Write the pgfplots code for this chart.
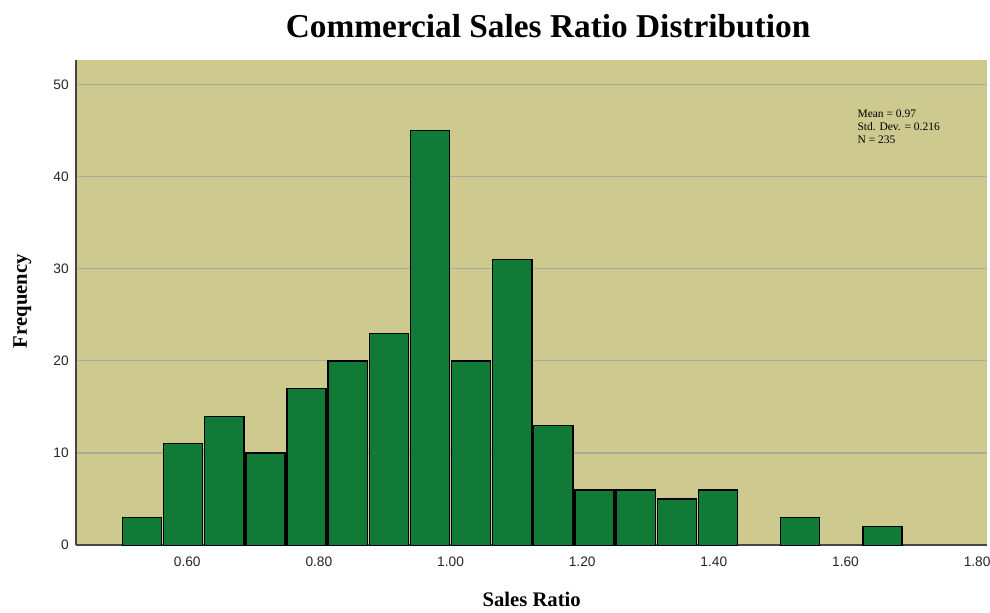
\documentclass[border=0pt]{standalone}
\usepackage{pgfplots}
\pgfplotsset{compat=1.18}
\usepackage{fontspec}
\setmainfont{Liberation Serif}
\newfontfamily\sansf{Liberation Sans}
\definecolor{bgcol}{RGB}{205,201,143}
\definecolor{barcol}{RGB}{17,122,54}
\definecolor{gridcol}{RGB}{172,170,152}
\definecolor{axcol}{RGB}{70,70,70}
\pgfplotstableread{
x y
0.53125 3
0.59375 11
0.65625 14
0.71875 10
0.78125 17
0.84375 20
0.90625 23
0.96875 45
1.03125 20
1.09375 31
1.15625 13
1.21875 6
1.28125 6
1.34375 5
1.40625 6
1.53125 3
1.65625 2
}\histdata
\begin{document}
\begin{tikzpicture}
\useasboundingbox (-57pt,-50.25pt) rectangle (685.25pt,408.75pt);
\begin{axis}[
  at={(0,0)}, anchor=south west,
  scale only axis,
  width=683.25pt, height=363.75pt,
  xmin=0.431, xmax=1.8155,
  ymin=0, ymax=52.65,
  axis background/.style={fill=bgcol},
  axis x line*=bottom, axis y line*=left,
  axis line style={axcol, line width=1.1pt, -},
  xtick={0.6,0.8,1.0,1.2,1.4,1.6,1.8},
  xticklabels={0.60,0.80,1.00,1.20,1.40,1.60,1.80},
  ytick={0,10,20,30,40,50},
  major tick length=0pt,
  ymajorgrids,
  major grid style={gridcol, line width=0.9pt},
  tick label style={font=\sansf\fontsize{10.3}{12}\selectfont, text=black!85},
  /pgf/number format/assume math mode=true,
  xticklabel style={yshift=-5pt},
  yticklabel style={xshift=-2pt},
  xlabel={\bfseries Sales Ratio},
  ylabel={\bfseries Frequency},
  every axis x label/.style={at={(axis description cs:0.5,-0.1258)}, anchor=base, font=\fontsize{15.5}{18}\selectfont},
  every axis y label/.style={at={(axis description cs:-0.0538,0.503)}, rotate=90, anchor=base, font=\fontsize{15.5}{18}\selectfont},
  title={\bfseries Commercial Sales Ratio Distribution},
  every axis title/.style={at={(axis description cs:0.518,1.0474)}, anchor=base, font=\fontsize{25}{29}\selectfont},
]
\addplot[ybar, bar width=0.0595, bar shift=0pt, fill=barcol, draw=black, line width=1pt] table[x=x,y=y] {\histdata};
\node[anchor=north west, align=left, font=\fontsize{8.6}{9.75}\selectfont, inner sep=0pt] at (axis cs:1.618,47.3) {Mean = 0.97\\Std. Dev. = 0.216\\N = 235};
\end{axis}
\end{tikzpicture}
\end{document}
